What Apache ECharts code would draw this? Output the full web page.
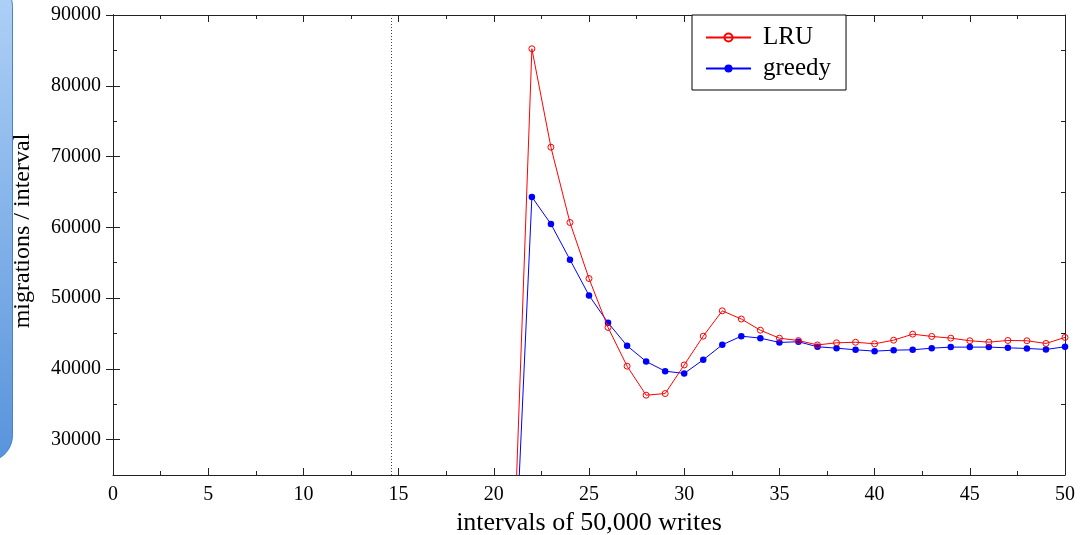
<!DOCTYPE html>
<html>
<head>
<meta charset="utf-8">
<script src="https://cdn.jsdelivr.net/npm/echarts@6/dist/echarts.min.js"></script>
<style>
html,body{margin:0;padding:0;background:#fff;}
#chart{width:1091px;height:535px;}
</style>
</head>
<body>
<div id="chart"></div>
<script>
const xValues = [21,22,23,24,25,26,27,28,29,30,31,32,33,34,35,36,37,38,39,40,41,42,43,44,45,46,47,48,49,50];
const lruValues = [10000,85230,71320,60680,52760,45850,40380,36280,36510,40550,44620,48200,47040,45460,44330,44000,43380,43680,43760,43540,44050,44900,44580,44340,43970,43770,44010,43970,43590,44440];
const greedyValues = [4800,64290,60470,55430,50380,46510,43260,41040,39670,39350,41280,43400,44620,44340,43730,43830,43120,42920,42690,42500,42640,42690,42920,43070,43070,43070,42970,42880,42740,43120];
const yMajorTicks = [30000,40000,50000,60000,70000,80000,90000];
const yMinorTicks = [35000,45000,55000,65000,75000,85000];
const dividerX = 14.6;
const seriesNames = ['LRU','greedy'];

const FONT = 'Liberation Serif';
const chart = echarts.init(document.getElementById('chart'), null, {renderer:'canvas'});

function pairs(ys){ return xValues.map((x,i)=>[x, ys[i]]); }

const axisLineStyle = {color:'#222', width:1};
function yAxisDef(pos, ticks, len, labels){
  return {
    type:'value', position:pos, min:25000, max:90000, interval:5000,
    axisLine:{show:true, lineStyle:axisLineStyle},
    axisTick:{show:true, inside:true, length:len, customValues:ticks, lineStyle:{color:'#222'}},
    axisLabel:{show:labels, customValues:yMajorTicks, color:'#000', fontFamily:FONT, fontSize:20, margin:12,
      formatter:v=> (v%10000===0 ? String(v) : '')},
    splitLine:{show:false}
  };
}
function xAxisDef(pos, labels){
  return {
    type:'value', position:pos, min:0, max:50, interval:5,
    axisLine:{show:true, onZero:false, lineStyle:axisLineStyle},
    axisTick:{show:true, inside:true, length:7, lineStyle:{color:'#222'}},
    minorTick:{show:true, splitNumber:2, length:4, lineStyle:{color:'#222'}},
    axisLabel:{show:labels, color:'#000', fontFamily:FONT, fontSize:20, margin:10},
    splitLine:{show:false},
    name: labels ? 'intervals of 50,000 writes' : '',
    nameLocation:'middle', nameGap:33,
    nameTextStyle:{color:'#000', fontFamily:FONT, fontSize:26}
  };
}

const option = {
  animation:false,
  backgroundColor:'#fff',
  graphic:[{
    type:'rect', left:-40, top:-20, z:100,
    shape:{width:52, height:481, r:26},
    style:{
      fill:new echarts.graphic.LinearGradient(0,0,0,1,[{offset:0,color:'#b0d2f7'},{offset:1,color:'#5893db'}]),
      stroke:'#4a80c8', lineWidth:1
    }
  }],
  grid:{left:113, right:26, top:15, bottom:60, outerBoundsMode:'none', containLabel:false},
  legend:{
    orient:'vertical', left:692, top:15,
    data:seriesNames,
    backgroundColor:'#fff', borderColor:'#000', borderWidth:1, borderRadius:0,
    padding:[7,15,6,13], itemGap:0, itemWidth:45, itemHeight:10,
    textStyle:{color:'#000', fontFamily:FONT, fontSize:25, lineHeight:31, padding:[0,0,0,7]}
  },
  xAxis:[xAxisDef('bottom', true), xAxisDef('top', false)],
  yAxis:[
    Object.assign(yAxisDef('left', yMajorTicks, 7, true), {
      name:'migrations / interval', nameLocation:'middle', nameGap:78,
      nameTextStyle:{color:'#000', fontFamily:FONT, fontSize:24, padding:[0,0,0,28]}
    }),
    yAxisDef('right', yMajorTicks, 7, false),
    yAxisDef('left', yMinorTicks, 4, false),
    yAxisDef('right', yMinorTicks, 4, false)
  ],
  series:[
    {
      name:seriesNames[0], type:'line', xAxisIndex:0, yAxisIndex:0,
      data:pairs(lruValues),
      symbol:'circle', symbolSize:6, showSymbol:true,
      itemStyle:{color:'rgba(255,255,255,0)', borderColor:'#ff0000', borderWidth:1},
      lineStyle:{color:'#ff0000', width:1},
      color:'#ff0000',
      clip:true, z:3,
      markLine:{
        silent:true, symbol:['none','none'],
        label:{show:false},
        lineStyle:{color:'#444', type:[1,2], width:1},
        data:[{xAxis:dividerX}]
      }
    },
    {
      name:seriesNames[1], type:'line', xAxisIndex:0, yAxisIndex:0,
      data:pairs(greedyValues),
      symbol:'circle', symbolSize:6.5, showSymbol:true,
      itemStyle:{color:'#0000ff', borderColor:'#0000ff', borderWidth:0},
      lineStyle:{color:'#0000ff', width:1},
      color:'#0000ff',
      clip:true, z:2
    }
  ]
};
chart.setOption(option);
</script>
</body>
</html>
